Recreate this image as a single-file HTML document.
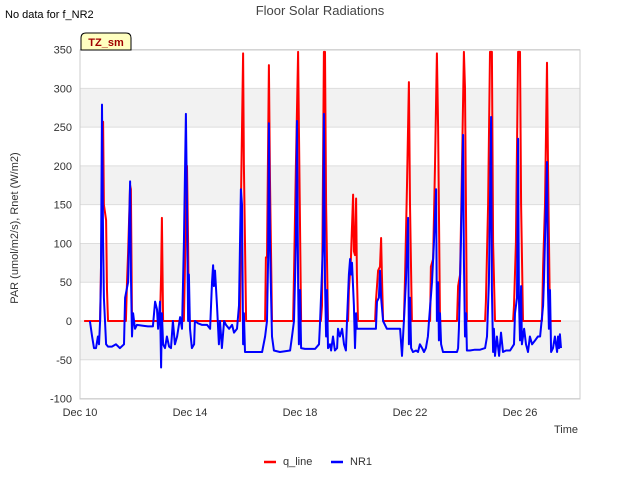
<!DOCTYPE html>
<html><head><meta charset="utf-8"><style>
body{margin:0;background:#fff;font-family:"Liberation Sans","DejaVu Sans",sans-serif}
svg{display:block}
</style></head><body>
<svg id="chart" width="640" height="480" viewBox="0 0 640 480" xmlns="http://www.w3.org/2000/svg">
<rect x="0" y="0" width="640" height="480" fill="#fff"/>
<text x="5" y="18" font-size="11" fill="#000">No data for f_NR2</text>
<text x="320" y="15" font-size="13" fill="#444" text-anchor="middle">Floor Solar Radiations</text>
<g id="bands"></g>
<g id="grid"></g>
<rect x="80" y="50" width="500" height="349" fill="none" stroke="#ccc"/>
<g id="yticks" font-size="11" fill="#333"></g>
<g id="xticks" font-size="11" fill="#333"></g>
<text transform="translate(18,228) rotate(-90)" font-size="11" fill="#333" text-anchor="middle">PAR (umol/m2/s), Rnet (W/m2)</text>
<text x="578" y="433" font-size="11" fill="#333" text-anchor="end">Time</text>
<g id="series"></g>
<g>
<path d="M81,50 L81,38 Q81,33 86,33 L126,33 Q131,33 131,38 L131,50 Z" fill="#ffffc0" stroke="#000"/>
<text x="106" y="46" font-size="11" font-weight="bold" fill="#a00000" text-anchor="middle">TZ_sm</text>
</g>
<g>
<g><line x1="264" y1="462" x2="276" y2="462" stroke="#f00" stroke-width="2.5"/><text x="283" y="465" font-size="11" fill="#333">q_line</text></g>
<g><line x1="331" y1="462" x2="343" y2="462" stroke="#00f" stroke-width="2.5"/><text x="350" y="465" font-size="11" fill="#333">NR1</text></g>
</g>
</svg>
<script>
const yTicks=[-100,-50,0,50,100,150,200,250,300,350];
const xTickDays=[0,4,8,12,16];
const xTickLabels=["Dec 10","Dec 14","Dec 18","Dec 22","Dec 26"];
const qDays=[0.15,0.73,0.76,0.84,0.87,0.95,0.98,1.02,1.67,1.71,1.75,1.82,1.85,1.89,2.91,2.95,2.98,3.02,3.78,3.82,3.89,3.93,3.96,5.82,5.85,5.93,5.96,6.04,6.73,6.76,6.80,6.87,6.91,6.98,7.75,7.78,7.85,7.93,7.96,8.04,8.76,8.80,8.87,8.91,8.95,9.02,9.75,9.78,9.85,9.93,9.96,10.00,10.04,10.07,10.11,10.73,10.76,10.84,10.91,10.95,10.98,11.02,11.78,11.82,11.89,11.96,12.00,12.07,12.73,12.76,12.84,12.91,12.98,13.02,13.09,13.71,13.75,13.82,13.89,13.96,14.00,14.07,14.73,14.76,14.84,14.91,14.98,15.02,15.09,15.75,15.78,15.85,15.93,16.00,16.04,16.11,16.80,16.84,16.91,16.98,17.02,17.09,17.49];
const qValues=[0,0,60,257,150,130,40,0,0,50,88,175,170,0,0,60,133,0,0,80,200,100,0,0,150,345,200,0,0,82,82,330,180,0,0,60,200,347,250,0,0,20,347,347,150,0,0,40,80,163,90,85,158,60,0,0,25,65,70,107,60,0,0,60,175,308,150,0,0,70,80,200,345,250,0,0,45,60,200,347,300,0,0,25,150,347,347,100,0,0,20,100,347,347,150,0,0,70,150,333,200,0,0];
const nrDays=[.36,.44,.51,.58,.65,.69,.73,.76,.80,.84,.87,.91,.95,1.02,1.16,1.31,1.45,1.60,1.64,1.75,1.82,1.85,1.89,1.93,2.00,2.07,2.29,2.47,2.65,2.73,2.80,2.84,2.91,2.95,2.98,3.02,3.09,3.16,3.24,3.31,3.38,3.45,3.53,3.64,3.71,3.78,3.85,3.89,3.93,3.96,4.00,4.07,4.15,4.18,4.29,4.44,4.62,4.73,4.80,4.84,4.87,4.91,4.98,5.05,5.09,5.16,5.24,5.31,5.42,5.53,5.60,5.71,5.78,5.85,5.89,5.93,5.96,6.00,6.11,6.36,6.62,6.73,6.80,6.84,6.87,6.91,6.95,6.98,7.05,7.27,7.64,7.71,7.78,7.85,7.89,7.93,7.96,8.00,8.04,8.18,8.55,8.69,8.73,8.84,8.87,8.91,8.95,8.98,9.02,9.09,9.13,9.20,9.27,9.35,9.38,9.45,9.53,9.60,9.67,9.71,9.78,9.82,9.85,9.89,9.96,10.00,10.04,10.07,10.15,10.36,10.62,10.76,10.80,10.87,10.91,10.95,11.02,11.09,11.16,11.42,11.64,11.71,11.78,11.85,11.93,11.96,12.00,12.04,12.11,12.22,12.29,12.36,12.44,12.51,12.58,12.65,12.69,12.80,12.87,12.95,12.98,13.02,13.05,13.09,13.13,13.20,13.45,13.64,13.71,13.75,13.78,13.85,13.93,13.96,14.00,14.04,14.07,14.18,14.36,14.55,14.73,14.80,14.87,14.95,14.98,15.02,15.05,15.09,15.16,15.24,15.31,15.38,15.49,15.64,15.78,15.82,15.89,15.93,15.96,16.00,16.04,16.07,16.15,16.22,16.29,16.36,16.44,16.55,16.65,16.73,16.84,16.87,16.98,17.02,17.05,17.09,17.13,17.20,17.27,17.35,17.38,17.42,17.45,17.49];
const nrValues=[0,-20,-35,-35,-20,-30,0,50,279,100,30,0,-30,-33,-33,-30,-35,-30,30,50,180,60,-20,10,-10,-5,-6,-7,-7,25,15,-10,25,-60,10,-30,-35,-20,-33,-35,0,-30,-20,5,-10,100,267,150,0,60,-10,-35,-30,0,-3,-5,-5,-10,50,72,45,65,20,-30,0,-35,0,-5,-10,-5,-15,-10,20,170,150,-30,10,-40,-40,-40,-40,-20,0,80,255,100,30,-20,-38,-40,-38,-20,0,100,258,50,-30,40,-35,-36,-36,-30,0,100,267,50,-20,40,-35,-30,-38,-20,-38,-35,-10,-20,-10,-30,-38,0,60,80,60,75,20,-35,10,-10,-10,-10,-10,-10,25,30,65,30,0,-5,-10,-10,-10,-45,0,50,133,-30,30,-35,-40,-38,-40,-30,-35,-40,-35,-20,0,50,100,170,0,50,-25,10,-30,-40,-40,-40,-40,-35,-10,100,240,80,-20,10,-38,-38,-37,-37,-35,-20,50,263,40,-40,-10,-45,-20,-45,-15,-40,-38,-38,-30,10,30,235,30,-25,45,-30,-10,-30,-40,-20,-30,-25,-20,-20,20,50,205,40,-10,40,-40,-35,-20,-40,-20,-35,-17,-35];

const NS="http://www.w3.org/2000/svg";
const X0=80,PX_PER_DAY=27.5,Y0=321,PX_PER_UNIT=349/450;
const xs=d=>X0+d*PX_PER_DAY;
const ys=v=>Y0-v*PX_PER_UNIT;
function mk(tag,attrs,parent){const e=document.createElementNS(NS,tag);for(const k in attrs)e.setAttribute(k,attrs[k]);parent.appendChild(e);return e;}

const bands=document.getElementById('bands');
for(let i=0;i<yTicks.length-1;i++){
  if(i%2===1){
    const r=mk('rect',{x:80,y:ys(yTicks[i+1]),width:500,height:ys(yTicks[i])-ys(yTicks[i+1]),fill:'#f2f2f2'},bands);
    
    
  }
}
const grid=document.getElementById('grid'),yt=document.getElementById('yticks');
yTicks.forEach(v=>{
  const l=mk('line',{x1:80,x2:580,y1:ys(v),y2:ys(v),stroke:'#ddd'},grid);
  
  
  const t=mk('text',{x:72,y:ys(v)+4,'text-anchor':'end'},yt);
  t.textContent=v;
  
  
});
const xt=document.getElementById('xticks');
xTickDays.forEach((d,i)=>{
  const t=mk('text',{x:xs(d),y:416,'text-anchor':'middle'},xt);
  t.textContent=xTickLabels[i];
  
  
});
const series=document.getElementById('series');
function line(days,vals,color,name){
  const pts=days.map((d,i)=>xs(d).toFixed(1)+','+ys(vals[i]).toFixed(1)).join(' ');
  const p=mk('polyline',{points:pts,fill:'none',stroke:color,'stroke-width':2,'stroke-linejoin':'round'},series);
  
  
}
line(qDays,qValues,'#ff0000','q-line-series');
line(nrDays,nrValues,'#0000ff','nr1-series');
</script>
</body></html>
